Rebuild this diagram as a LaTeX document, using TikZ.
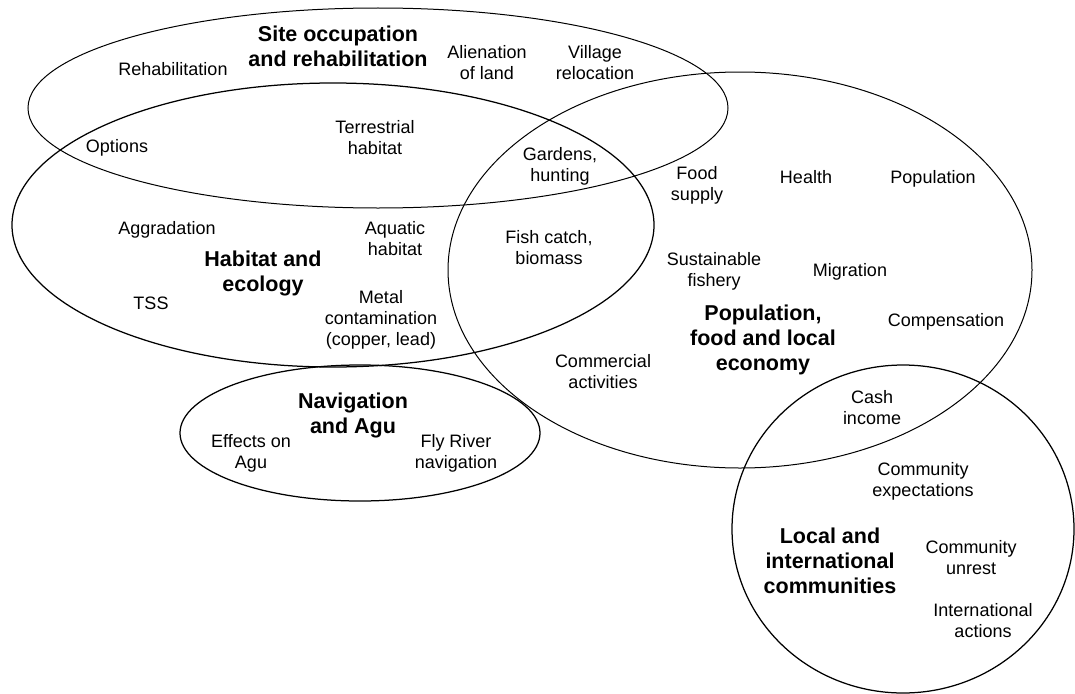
\documentclass[tikz,border=0pt]{standalone}
\usepackage{fontspec}
\setmainfont{Liberation Sans}
\usetikzlibrary{shapes.geometric}
\begin{document}
\begin{tikzpicture}[x=1pt,y=-1pt,
  thinregion/.style={draw, ellipse, line width=1pt, inner sep=0pt},
  thickregion/.style={draw, ellipse, line width=1.25pt, inner sep=0pt},
  item/.style={align=center, font=\fontsize{18}{21}\selectfont, inner sep=0pt},
  heading/.style={align=center, font=\fontsize{21.5}{25}\selectfont\bfseries, inner sep=0pt}]
\useasboundingbox (0,0) rectangle (1075,693);
% regions
\node[thinregion, minimum width=700pt, minimum height=200pt] (site) at (378,108) {};
\node[thickregion, minimum width=642pt, minimum height=284pt] (habitat) at (333,225) {};
\node[thinregion, minimum width=584pt, minimum height=396pt] (pop) at (740,270) {};
\node[thickregion, minimum width=360pt, minimum height=136pt] (nav) at (360,433) {};
\node[thickregion, minimum width=342pt, minimum height=328pt] (comm) at (903,529) {};
% headings
\node[heading] (hsite) at (338,49) {\strut Site occupation\\\strut and rehabilitation};
\node[heading] (hhab) at (263,274) {\strut Habitat and\\\strut ecology};
\node[heading] (hnav) at (353,416) {\strut Navigation\\\strut and Agu};
\node[heading] (hpop) at (763,340) {\strut Population,\\\strut food and local\\\strut economy};
\node[heading] (hcomm) at (830,563) {\strut Local and\\\strut international\\\strut communities};
% items
\node[item] (rehab) at (173,71) {\strut Rehabilitation};
\node[item] (alien) at (487,65) {\strut Alienation\\\strut of land};
\node[item] (village) at (595,65) {\strut Village\\\strut relocation};
\node[item] (options) at (117,148) {\strut Options};
\node[item] (terr) at (375,140) {\strut Terrestrial\\\strut habitat};
\node[item] (gardens) at (560,167) {\strut Gardens,\\\strut hunting};
\node[item] (food) at (697,186) {\strut Food\\\strut supply};
\node[item] (health) at (806,179) {\strut Health};
\node[item] (popn) at (933,179) {\strut Population};
\node[item] (aggr) at (167,230) {\strut Aggradation};
\node[item] (aquatic) at (395,241) {\strut Aquatic\\\strut habitat};
\node[item] (fish) at (549,250) {\strut Fish catch,\\\strut biomass};
\node[item] (sust) at (714,272) {\strut Sustainable\\\strut fishery};
\node[item] (migr) at (850,272) {\strut Migration};
\node[item] (tss) at (151,305) {\strut TSS};
\node[item] (metal) at (381,320) {\strut Metal\\\strut contamination\\\strut (copper, lead)};
\node[item] (comp) at (946,322) {\strut Compensation};
\node[item] (commer) at (603,374) {\strut Commercial\\\strut activities};
\node[item] (cash) at (872,410) {\strut Cash\\\strut income};
\node[item] (effects) at (251,454) {\strut Effects on\\\strut Agu};
\node[item] (fly) at (456,454) {\strut Fly River\\\strut navigation};
\node[item] (expect) at (923,482) {\strut Community\\\strut expectations};
\node[item] (unrest) at (971,560) {\strut Community\\\strut unrest};
\node[item] (intl) at (983,623) {\strut International\\\strut actions};
\end{tikzpicture}
\end{document}
